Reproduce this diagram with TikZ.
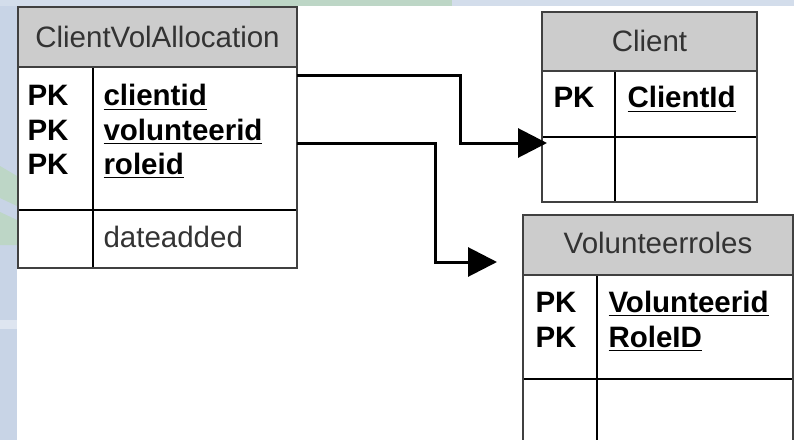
\documentclass[tikz,border=0pt]{standalone}
\usepackage{fontspec}
\setmainfont{Liberation Sans}
\usetikzlibrary{arrows.meta}
\definecolor{stripblue}{HTML}{C8D4E6}
\definecolor{stripgreen}{HTML}{BDD6C6}
\definecolor{headgray}{HTML}{CCCCCC}

\begin{document}
\begin{tikzpicture}[x=0.4pt,y=-0.4pt,
  tbl/.style={draw=black!75,line width=0.8pt},
  grid/.style={black,line width=0.5pt},
  title/.style={inner sep=0pt,text=black!80,font=\fontsize{11.8}{14}\selectfont},
  key/.style={anchor=base west,inner sep=0pt,font=\fontsize{11.8}{14}\selectfont\bfseries},
  field/.style={key},
  plainfield/.style={anchor=base west,inner sep=0pt,text=black!80,font=\fontsize{11.8}{14}\selectfont},
  relarrow/.style={line width=1.2pt,-{Triangle[length=11.6pt,width=11.6pt]}}]
\useasboundingbox (0,0) rectangle (794,440);
\clip (0,0) rectangle (794,440);
% background
\fill[white] (0,0) rectangle (794,440);
\fill[stripblue] (0,0) rectangle (17,440);
\fill[stripblue!80!white] (0,0) rectangle (794,6);
\fill[stripgreen] (250,0) rectangle (452,6);
\fill[stripgreen] (0,166) -- (17,176) -- (17,206) -- (0,198) -- cycle;
\fill[stripgreen] (0,212) -- (17,220) -- (17,245) -- (0,245) -- cycle;
\fill[stripblue!60!white] (0,320) rectangle (17,329);

% ClientVolAllocation
\fill[headgray] (18,7) rectangle (297,67);
\fill[white] (18,67) rectangle (297,268);
\draw[grid] (18,210) -- (297,210);
\draw[grid] (93,67) -- (93,268);
\draw[tbl] (18,67) -- (297,67);
\draw[tbl] (18,7) rectangle (297,268);
\node[title] (cva) at (157.5,37) {ClientVolAllocation};
\node[key] (cva-pk1) at (27,106) {PK};
\node[key] (cva-pk2) at (27,140) {PK};
\node[key] (cva-pk3) at (27,174) {PK};
\node[field] (cva-client) at (103,106) {\underline{clientid}};
\node[field] (cva-vol) at (103,140) {\underline{volunteerid}};
\node[field] (cva-role) at (103,174) {\underline{roleid}};
\node[plainfield] (cva-date) at (103,247) {dateadded};

% Client
\fill[headgray] (542,12) rectangle (757,71);
\fill[white] (542,71) rectangle (757,202);
\draw[grid] (542,137) -- (757,137);
\draw[grid] (615,71) -- (615,202);
\draw[tbl] (542,71) -- (757,71);
\draw[tbl] (542,12) rectangle (757,202);
\node[title] (client) at (649.5,41) {Client};
\node[key] (client-pk) at (553,108) {PK};
\node[field] (client-id) at (627,108) {\underline{ClientId}};

% Volunteerroles
\fill[headgray] (523,215) rectangle (793,275);
\fill[white] (523,275) rectangle (793,460);
\draw[grid] (523,379) -- (793,379);
\draw[grid] (597,275) -- (597,460);
\draw[tbl] (523,275) -- (793,275);
\draw[tbl] (523,215) rectangle (793,460);
\node[title] (volroles) at (658,243) {Volunteerroles};
\node[key] (vol-pk1) at (535,312) {PK};
\node[key] (vol-pk2) at (535,347) {PK};
\node[field] (vol-id) at (608,312) {\underline{Volunteerid}};
\node[field] (vol-role) at (608,347) {\underline{RoleID}};

% relationships
\coordinate (cva-a) at (297,75);
\coordinate (bend-a) at (460,75);
\coordinate (client-in) at (547,143);
\draw[relarrow] (cva-a) -- (bend-a) |- (client-in);
\coordinate (cva-b) at (297,143);
\coordinate (bend-b) at (435,143);
\coordinate (vol-in) at (497,262);
\draw[relarrow] (cva-b) -- (bend-b) |- (vol-in);
\end{tikzpicture}
\end{document}
